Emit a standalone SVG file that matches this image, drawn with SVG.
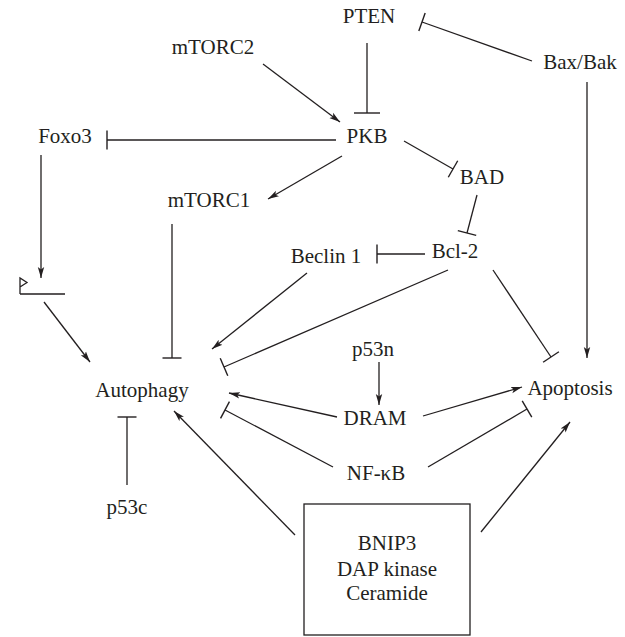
<svg xmlns="http://www.w3.org/2000/svg" width="625" height="637" viewBox="0 0 625 637">
<style>
text{font-family:"Liberation Serif","Times New Roman",serif;font-size:21px;fill:#231f20;text-anchor:middle}
.c{stroke:#231f20;stroke-width:1.3;fill:none}
.a{marker-end:url(#arrow)}
.t{marker-end:url(#tbar)}
.tw{marker-end:url(#tbarw)}
</style>
<defs>
<marker id="arrow" markerUnits="userSpaceOnUse" markerWidth="12" markerHeight="8" viewBox="0 0 12 8" refX="11" refY="4" orient="auto">
<path d="M0,0.8 L11,4 L0,7.2 L2.5,4 Z" fill="#231f20"/>
</marker>
<marker id="tbar" markerUnits="userSpaceOnUse" markerWidth="4" markerHeight="22" viewBox="-2 -11 4 22" refX="0" refY="0" orient="auto">
<path d="M0,-9.5 L0,9.5" stroke="#231f20" stroke-width="1.4"/>
</marker>
<marker id="tbarw" markerUnits="userSpaceOnUse" markerWidth="4" markerHeight="30" viewBox="-2 -15 4 30" refX="0" refY="0" orient="auto">
<path d="M0,-13 L0,13" stroke="#231f20" stroke-width="1.4"/>
</marker>
</defs>
<g id="connectors">
<path class="c t" d="M532,61 L422,22"/>
<path class="c tw" d="M367,43 L367,113"/>
<path class="c a" d="M263,64 L340,122"/>
<path class="c t" d="M336,140 L107,140"/>
<path class="c a" d="M342,156 L268,199"/>
<path class="c t" d="M404,141 L453,169"/>
<path class="c t" d="M477,195 L467,233"/>
<path class="c t" d="M425,254 L377,254"/>
<path class="c a" d="M41,155 L41,278"/>
<path class="c a" d="M44,302 L90,362"/>
<path class="c t" d="M172,224 L172,358"/>
<path class="c a" d="M307,273 L212,349"/>
<path class="c t" d="M448,270 L224,367"/>
<path class="c t" d="M493,270 L551,357"/>
<path class="c a" d="M587,82 L587,358"/>
<path class="c a" d="M379,362 L379,405"/>
<path class="c a" d="M337,417 L229,393"/>
<path class="c a" d="M423,416 L522,387"/>
<path class="c t" d="M333,467 L225,410"/>
<path class="c t" d="M428,467 L527,409"/>
<path class="c a" d="M295,535 L174,411"/>
<path class="c a" d="M481,532 L570,422"/>
<path class="c t" d="M127,485 L127,417"/>
</g>
<g id="gene">
<path class="c" d="M20,294 L20,278 L27,282.5 L20,287 M20,294 L65,294"/>
</g>
<g id="PTEN"><text x="369" y="23">PTEN</text></g>
<g id="mTORC2"><text x="213" y="54">mTORC2</text></g>
<g id="BaxBak"><text x="580" y="69">Bax/Bak</text></g>
<g id="Foxo3"><text x="65" y="143">Foxo3</text></g>
<g id="PKB"><text x="367" y="143">PKB</text></g>
<g id="mTORC1"><text x="209" y="207">mTORC1</text></g>
<g id="BAD"><text x="482" y="184">BAD</text></g>
<g id="Beclin1"><text x="326" y="263">Beclin 1</text></g>
<g id="Bcl2"><text x="455" y="258">Bcl-2</text></g>
<g id="Autophagy"><text x="142" y="397">Autophagy</text></g>
<g id="p53c"><text x="127" y="514">p53c</text></g>
<g id="p53n"><text x="373" y="356">p53n</text></g>
<g id="DRAM"><text x="375" y="425">DRAM</text></g>
<g id="Apoptosis"><text x="570" y="395">Apoptosis</text></g>
<g id="NFkB"><text x="376" y="480">NF-κB</text></g>
<g id="box">
<rect x="304" y="504" width="166" height="131" fill="none" stroke="#231f20" stroke-width="1.3"/>
<text x="387" y="550">BNIP3</text>
<text x="387" y="576">DAP kinase</text>
<text x="387" y="600">Ceramide</text>
</g>
</svg>
